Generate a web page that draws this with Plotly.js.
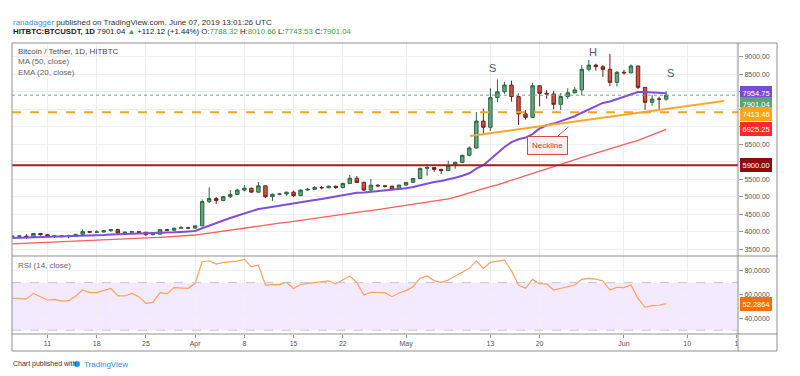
<!DOCTYPE html>
<html><head><meta charset="utf-8">
<script src="https://cdn.plot.ly/plotly-3.0.1.min.js"></script>
<style>html,body{margin:0;padding:0;background:#fff}#chart{width:800px;height:376px}</style>
</head><body><div id="chart"></div>
<script>
const dates = ['2019-03-06','2019-03-07','2019-03-08','2019-03-09','2019-03-10','2019-03-11','2019-03-12','2019-03-13','2019-03-14','2019-03-15','2019-03-16','2019-03-17','2019-03-18','2019-03-19','2019-03-20','2019-03-21','2019-03-22','2019-03-23','2019-03-24','2019-03-25','2019-03-26','2019-03-27','2019-03-28','2019-03-29','2019-03-30','2019-03-31',
'2019-04-01','2019-04-02','2019-04-03','2019-04-04','2019-04-05','2019-04-06','2019-04-07','2019-04-08','2019-04-09','2019-04-10','2019-04-11','2019-04-12','2019-04-13','2019-04-14','2019-04-15','2019-04-16','2019-04-17','2019-04-18','2019-04-19','2019-04-20','2019-04-21','2019-04-22','2019-04-23','2019-04-24','2019-04-25','2019-04-26','2019-04-27','2019-04-28','2019-04-29','2019-04-30',
'2019-05-01','2019-05-02','2019-05-03','2019-05-04','2019-05-05','2019-05-06','2019-05-07','2019-05-08','2019-05-09','2019-05-10','2019-05-11','2019-05-12','2019-05-13','2019-05-14','2019-05-15','2019-05-16','2019-05-17','2019-05-18','2019-05-19','2019-05-20','2019-05-21','2019-05-22','2019-05-23','2019-05-24','2019-05-25','2019-05-26','2019-05-27','2019-05-28','2019-05-29','2019-05-30','2019-05-31',
'2019-06-01','2019-06-02','2019-06-03','2019-06-04','2019-06-05','2019-06-06','2019-06-07'];

const open = [3858,3870,3876,3862,3948,3915,3868,3882,3860,3870,3925,4002,3988,3992,4030,4060,3968,3985,4000,3984,3915,3930,4060,4042,4100,4112,
4105,4168,4860,4950,4890,5000,5065,5190,5240,5130,5310,5000,5070,5078,5130,5030,5190,5212,5262,5255,5300,5262,5380,5528,5410,5190,5330,5310,5298,5220,
5332,5410,5522,5810,5832,5780,5745,5890,5980,6182,6392,7160,6985,7830,7998,8190,7860,7365,7268,8170,7955,7935,7640,7862,7970,8052,8640,8760,8715,8640,8268,
8555,8540,8735,8125,7697,7790,7788.32];
const high = [3905,3900,3930,3960,3955,3935,3895,3895,3915,3935,4060,4010,4040,4045,4075,4085,4000,4010,4008,3990,3945,4070,4070,4120,4160,4125,
4175,4920,5270,4990,5020,5190,5230,5335,5260,5420,5320,5090,5100,5140,5175,5200,5250,5300,5310,5320,5320,5400,5620,5590,5430,5510,5350,5330,5320,5340,
5420,5530,5830,5930,5850,5800,6030,6000,6200,6440,7420,7520,8100,8350,8280,8315,7950,7480,8260,8180,8050,8030,7960,8100,8130,8760,8910,8800,8760,9080,8590,
8620,8780,8740,8130,7900,7860,8010.66];
const low = [3830,3845,3800,3850,3890,3850,3820,3845,3810,3860,3915,3960,3960,3975,4000,3930,3955,3970,3960,3880,3900,3925,4025,4030,4080,4095,
4080,4160,4820,4790,4880,4960,5050,5150,5120,5120,4960,4880,5040,5030,4990,5020,5170,5200,5210,5240,5220,5240,5360,5400,5160,5150,5280,5260,5190,5200,
5310,5390,5500,5600,5710,5650,5735,5800,5960,6150,6380,6800,6880,7700,7940,7720,7050,7200,7250,7580,7800,7500,7480,7800,7950,7900,8580,8600,8420,8160,8150,
8490,8520,8080,7480,7600,7470,7743.53];
const close = [3870,3876,3862,3948,3915,3868,3882,3860,3870,3925,4002,3988,3992,4030,4060,3968,3985,4000,3984,3915,3930,4060,4042,4100,4112,4105,
4168,4860,4950,4890,5000,5065,5190,5240,5130,5310,5000,5070,5078,5130,5030,5190,5212,5262,5255,5300,5262,5380,5528,5410,5190,5330,5310,5298,5220,5332,
5410,5522,5810,5832,5780,5745,5890,5980,6182,6392,7160,6985,7830,7998,8190,7860,7365,7268,8170,7955,7935,7640,7862,7970,8052,8640,8760,8715,8640,8268,8555,
8540,8735,8125,7697,7790,7788.92,7901.04];

const ma50 = [3650,3658,3667,3675,3686,3694,3703,3711,3722,3730,3741,3749,3757,3768,3776,3786,3793,3804,3811,3822,3830,3841,3850,3861,3870,3882,
3906,3933,3963,3989,4019,4045,4075,4101,4131,4157,4187,4213,4243,4269,4299,4325,4355,4381,4411,4437,4467,4493,4523,4549,4579,4605,4635,4661,4691,4718,
4749,4779,4813,4844,4876,4904,4936,4989,5052,5108,5172,5228,5287,5338,5406,5468,5537,5598,5667,5728,5797,5858,5927,5988,6057,6118,6187,6248,6312,6368,6432,
6488,6552,6608,6692,6768,6852,6925.25];
const ema20 = [3820,3826,3831,3838,3845,3849,3852,3854,3856,3862,3876,3886,3895,3907,3920,3925,3931,3938,3943,3942,3946,3959,3968,3982,3994,4004,
4020,4100,4180,4250,4320,4390,4460,4530,4590,4650,4680,4715,4745,4780,4800,4835,4870,4905,4935,4970,4995,5030,5075,5110,5120,5140,5158,5172,5185,5225,
5245,5275,5330,5380,5420,5450,5490,5540,5600,5670,5800,5900,6070,6250,6420,6560,6640,6690,6790,6950,7040,7090,7160,7230,7300,7400,7500,7600,7680,7720,7790,
7850,7930,7990,7990,7975,7962,7954.75];
const rsi = [56.8,56.5,56.3,61.0,58.5,55.4,55.9,54.5,54.8,58.5,63.8,61.6,61.6,63.5,65.2,58.8,58.8,61.0,58.2,52.6,53.4,61.6,60.5,65.8,65.8,65.2,
69.4,87.6,88.4,85.6,87.0,87.6,88.1,89.5,83.3,84.7,68.0,68.3,68.3,70.3,64.9,68.6,69.4,70.3,70.6,71.4,68.9,72.2,75.6,70.0,59.6,61.9,61.6,61.6,58.2,61.3,
63.3,66.6,73.7,75.6,71.7,70.3,72.2,75.6,79.2,82.0,88.4,82.0,87.0,88.1,89.0,80.0,68.0,65.2,72.7,68.9,68.9,63.8,65.2,66.1,68.0,72.7,73.5,73.0,71.4,63.8,66.1,
65.8,68.0,56.8,49.3,50.7,51.0,52.2864];

const neckDates = ['2019-05-10 02:00','2019-06-15 05:00'];
const neckPrices = [6734, 7734];
const supportLevel = 7413.46;
const resistLevel = 5900;
const lastPrice = 7901.04;

const tickDates = ['2019-03-11','2019-03-18','2019-03-25','2019-04-01','2019-04-08','2019-04-15','2019-04-22','2019-05-01','2019-05-13','2019-05-20','2019-06-01','2019-06-10','2019-06-17'];
const tickLabels = ['11','18','25','Apr','8','15','22','May','13','20','Jun','10','1'];
const priceTicks = [3500,4000,4500,5000,5500,6000,6500,7000,7500,8000,8500,9000];
const priceTickLabels = ['3500.00','4000.00','4500.00','5000.00','5500.00','','6500.00','','','','8500.00','9000.00'];
const rsiTicks = [40,60,80];
const rsiTickLabels = ['40.0000','60.0000','80.0000'];

const FONT = 'Liberation Sans, Arial, sans-serif';
const PT = 43, PB = 334, PL = 12, PR = 738, SPLIT = 256;
const px2x = px => (px - PL) / (PR - PL);
const px2y = py => (PB - py) / (PB - PT);
const splitDom = px2y(SPLIT);

const traces = [
  {type:'candlestick', x:dates, open:open, high:high, low:low, close:close, xaxis:'x2', yaxis:'y',
   increasing:{line:{color:'#2b6643', width:1}, fillcolor:'#64a57d'},
   decreasing:{line:{color:'#6e2219', width:1}, fillcolor:'#d5503d'},
   hoverinfo:'skip'},
  {type:'scatter', mode:'lines', x:dates, y:ma50, xaxis:'x2', yaxis:'y', line:{color:'#ff5c5c', width:1.3}, hoverinfo:'skip'},
  {type:'scatter', mode:'lines', x:dates, y:ema20, xaxis:'x2', yaxis:'y', line:{color:'#7d4fdc', width:2}, hoverinfo:'skip'},
  {type:'scatter', mode:'lines', x:neckDates, y:neckPrices, xaxis:'x2', yaxis:'y', line:{color:'#ffa62b', width:2}, hoverinfo:'skip'},
  {type:'scatter', mode:'lines', x:dates, y:rsi, xaxis:'x', yaxis:'y2', line:{color:'#ffa05c', width:1.2}, hoverinfo:'skip'}
];

const xr = ['2019-03-05 22:48','2019-06-17 05:17'];
const gridC = '#eeeeee';
const frameC = '#8f8f8f';
const tf = {family:FONT, size:7, color:'#555'};

const shapes = [
  {type:'rect', xref:'paper', yref:'y2', x0:0, x1:1, y0:30, y1:70, fillcolor:'rgba(165,90,255,0.13)', line:{width:0}, layer:'below'},
  {type:'line', xref:'paper', yref:'y2', x0:0, x1:1, y0:70, y1:70, line:{color:'#c9c3d3', width:1, dash:'dash'}},
  {type:'line', xref:'paper', yref:'y2', x0:0, x1:1, y0:30, y1:30, line:{color:'#c9c3d3', width:1, dash:'dash'}},
  {type:'line', xref:'paper', yref:'y', x0:0, x1:1, y0:lastPrice, y1:lastPrice, line:{color:'#6aa888', width:1, dash:'dot'}},
  {type:'line', xref:'paper', yref:'y', x0:0, x1:1, y0:supportLevel, y1:supportLevel, line:{color:'#ffa31a', width:2, dash:'dash'}},
  {type:'line', xref:'paper', yref:'y', x0:0, x1:1, y0:resistLevel, y1:resistLevel, line:{color:'#a32020', width:2}},
  {type:'rect', xref:'paper', yref:'paper', x0:0, x1:px2x(777), y0:px2y(351), y1:1, line:{color:frameC, width:1}, fillcolor:'rgba(0,0,0,0)'},
  {type:'line', xref:'paper', yref:'paper', x0:1, x1:1, y0:px2y(351), y1:1, line:{color:frameC, width:1}},
  {type:'line', xref:'paper', yref:'paper', x0:0, x1:px2x(777), y0:splitDom, y1:splitDom, line:{color:frameC, width:1}},
  {type:'line', xref:'paper', yref:'paper', x0:0, x1:px2x(777), y0:0, y1:0, line:{color:frameC, width:1}},
  {type:'circle', xref:'paper', yref:'paper', x0:px2x(74), x1:px2x(80), y0:px2y(367), y1:px2y(361), fillcolor:'#2196f3', line:{width:0}}
];

function priceLabel(val, text, bg, shift, yref) {
  return {xref:'paper', yref:yref||'y', x:1, y:val, xanchor:'left', yanchor:'middle', xshift:2, yshift:shift||0,
    text:text, showarrow:false, bgcolor:bg, bordercolor:bg, borderpad:1.5,
    font:{family:FONT, size:7.5, color:'#fff'}};
}
function txt(xpx, ypx, text, size, color, anchor) {
  return {xref:'paper', yref:'paper', x:px2x(xpx), y:px2y(ypx), xanchor:anchor||'left', yanchor:'middle',
    text:text, showarrow:false, font:{family:FONT, size:size, color:color}};
}
const G = '#3aa64a';
const annotations = [
  txt(11, 22, '<span style="color:#3a8fdc">ranadagger</span> published on TradingView.com, June 07, 2019 13:01:26 UTC', 8, '#333'),
  txt(11, 32, '<b>HITBTC:BTCUSDT, 1D</b> 7901.04 <span style="color:'+G+'">▲</span> +112.12 (+1.44%) O:<span style="color:'+G+'">7788.32</span> H:<span style="color:'+G+'">8010.66</span> L:<span style="color:'+G+'">7743.53</span> C:<span style="color:'+G+'">7901.04</span>', 7.8, '#222'),
  txt(16, 51, 'Bitcoin / Tether, 1D, HITBTC', 8, '#4a4a4a'),
  txt(16, 61.5, 'MA (50, close)', 8, '#666'),
  txt(16, 72.5, 'EMA (20, close)', 8, '#666'),
  txt(16, 265.5, 'RSI (14, close)', 8, '#666'),
  txt(11, 364, 'Chart published with', 7, '#333'),
  txt(82, 364, 'TradingView', 8, '#2196f3'),
  {xref:'x2', yref:'y', x:'2019-05-13 08:00', y:8676, text:'S', showarrow:false, font:{family:FONT, size:11, color:'#4d5d6d'}},
  {xref:'x2', yref:'y', x:'2019-05-27 14:00', y:9134, text:'H', showarrow:false, font:{family:FONT, size:11, color:'#4d5d6d'}},
  {xref:'x2', yref:'y', x:'2019-06-07 14:00', y:8534, text:'S', showarrow:false, font:{family:FONT, size:11, color:'#4d5d6d'}},
  {xref:'x2', yref:'y', x:'2019-05-24 02:00', y:6991, text:'Neckline', showarrow:true, arrowhead:0, arrowwidth:1, arrowcolor:'#c8504a',
   ax:-21, ay:18, bgcolor:'#fdeeee', bordercolor:'#c8504a', borderwidth:1, borderpad:4, font:{family:FONT, size:8, color:'#b5443c'}},
  priceLabel(7954.75, '7954.75', '#7a4bd6', 0),
  priceLabel(lastPrice, '7901.04', '#5fa07b', -9),
  priceLabel(supportLevel, '7413.46', '#ffa31a', -2),
  priceLabel(6925.25, '6925.25', '#ff2a2a', 0),
  priceLabel(resistLevel, '5900.00', '#8b0d0d', 0),
  priceLabel(52.2864, '52.2864', '#ff6d00', 0, 'y2')
];

const layout = {
  width:800, height:376, margin:{l:PL, r:800-PR, t:PT, b:376-PB, pad:0},
  paper_bgcolor:'#fff', plot_bgcolor:'#fff', showlegend:false, dragmode:false,
  font:{family:FONT},
  xaxis:{domain:[0,1], anchor:'y2', type:'date', range:xr, tickmode:'array', tickvals:tickDates, ticktext:tickLabels,
    showgrid:true, gridcolor:gridC, ticks:'outside', ticklen:3, tickcolor:'#999', tickfont:tf, showline:false, zeroline:false, fixedrange:true},
  xaxis2:{matches:'x', anchor:'y', type:'date', range:xr, tickmode:'array', tickvals:tickDates, showticklabels:false,
    showgrid:true, gridcolor:gridC, ticks:'', showline:false, zeroline:false, rangeslider:{visible:false}, fixedrange:true},
  yaxis:{domain:[splitDom,1], anchor:'x2', side:'right', range:[3306,9392], tickmode:'array', tickvals:priceTicks, ticktext:priceTickLabels,
    ticks:'outside', ticklen:4, tickcolor:'#999', tickfont:tf, showgrid:true, gridcolor:gridC, showline:false, zeroline:false, fixedrange:true},
  yaxis2:{domain:[0,splitDom], anchor:'x', side:'right', range:[26.8,92.4], tickmode:'array', tickvals:rsiTicks, ticktext:rsiTickLabels,
    ticks:'outside', ticklen:4, tickcolor:'#999', tickfont:tf, showgrid:true, gridcolor:'#f1f1f1', showline:false, zeroline:false, fixedrange:true},
  shapes:shapes, annotations:annotations
};
Plotly.newPlot('chart', traces, layout, {staticPlot:true, displayModeBar:false});
</script></body></html>
